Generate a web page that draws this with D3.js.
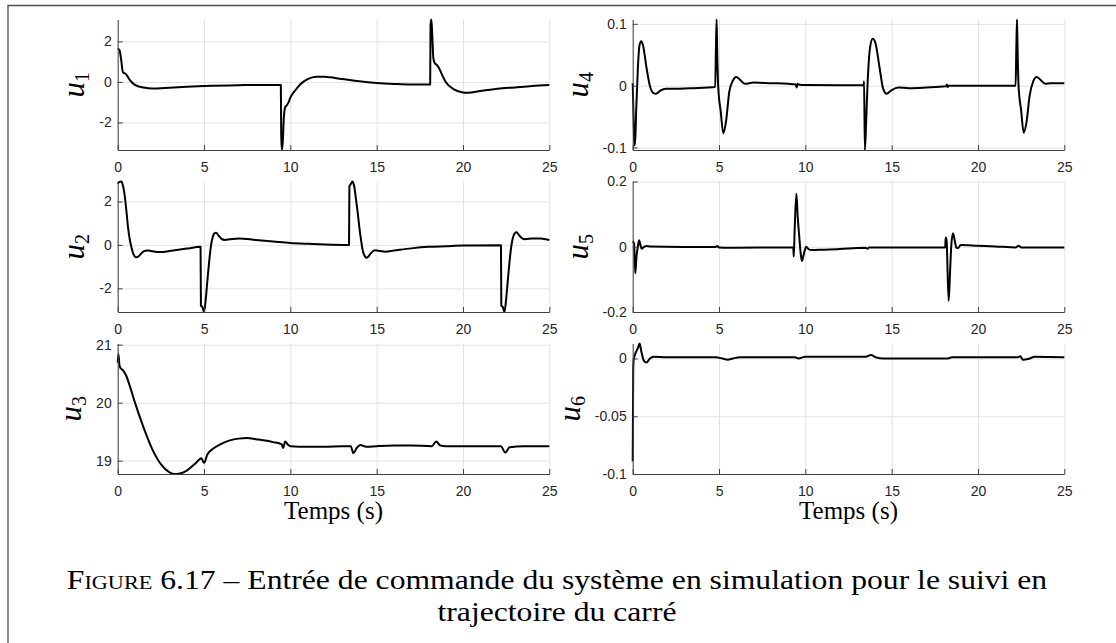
<!DOCTYPE html>
<html><head><meta charset="utf-8">
<script src="https://cdn.jsdelivr.net/npm/d3@7"></script>
<style>body{margin:0;background:#fff} svg{display:block}</style>
</head><body>
<svg id="c" width="1116" height="643"></svg>
<script>
// ---------- data ----------
const xTicks = [0, 5, 10, 15, 20, 25];
const xTickLabels = ["0", "5", "10", "15", "20", "25"];
const panelNames = ["1", "2", "3", "4", "5", "6"];

const u1 = [[0,1.64],[0.1,1.58],[0.2,1.1],[0.3,0.48],[0.45,0.4],[0.55,0.3],[0.7,0.1],[1.0,-0.15],[1.5,-0.28],[2.0,-0.33],[3.0,-0.29],[4.0,-0.24],[5.0,-0.2],[7.0,-0.16],[9.0,-0.15],[9.45,-0.15],[9.47,-2.5],[9.5,-3.36],[9.56,-3.0],[9.62,-1.8],[9.7,-1.25],[9.8,-1.15],[9.9,-1.0],[10.0,-0.78],[10.3,-0.4],[10.6,-0.1],[11.0,0.14],[11.5,0.26],[12.0,0.25],[13.0,0.14],[14.0,0.03],[15.0,-0.05],[16.0,-0.1],[17.0,-0.13],[18.1,-0.13],[18.12,2.8],[18.16,3.08],[18.2,2.7],[18.28,1.2],[18.35,0.95],[18.5,0.82],[18.6,0.7],[18.8,0.33],[19.0,0.0],[19.5,-0.38],[20.0,-0.52],[20.3,-0.54],[21.0,-0.45],[22.0,-0.34],[23.0,-0.27],[24.0,-0.2],[25.0,-0.15]];
const u2 = [[0,2.82],[0.1,2.9],[0.2,2.92],[0.3,2.75],[0.4,2.3],[0.5,1.6],[0.6,0.8],[0.7,0.25],[0.8,-0.12],[0.9,-0.4],[1.0,-0.54],[1.1,-0.57],[1.25,-0.5],[1.4,-0.36],[1.6,-0.27],[1.8,-0.26],[2.0,-0.29],[2.5,-0.33],[3.0,-0.28],[4.0,-0.17],[4.8,-0.09],[4.82,-2.8],[4.9,-2.85],[5.0,-3.09],[5.1,-2.5],[5.2,-1.6],[5.3,-0.75],[5.4,-0.05],[5.5,0.35],[5.6,0.53],[5.7,0.56],[5.85,0.42],[6.0,0.29],[6.2,0.23],[6.5,0.26],[7.0,0.3],[8.0,0.23],[9.0,0.16],[10.0,0.09],[11.0,0.05],[12.0,0.02],[13.4,0.0],[13.42,2.7],[13.5,2.8],[13.6,2.92],[13.7,2.7],[13.8,2.12],[13.9,1.5],[14.0,0.8],[14.1,0.2],[14.2,-0.28],[14.3,-0.5],[14.4,-0.59],[14.5,-0.55],[14.65,-0.4],[14.9,-0.25],[15.2,-0.28],[15.5,-0.31],[16.0,-0.26],[17.0,-0.16],[18.0,-0.09],[19.0,-0.06],[20.0,-0.03],[22.2,-0.02],[22.22,-2.8],[22.3,-2.85],[22.4,-3.09],[22.5,-2.5],[22.6,-1.6],[22.7,-0.75],[22.8,-0.05],[22.9,0.35],[23.0,0.54],[23.1,0.58],[23.25,0.45],[23.4,0.32],[23.6,0.26],[24.0,0.3],[24.5,0.29],[25.0,0.23]];
const u3 = [[0,20.69],[0.04,20.84],[0.1,20.65],[0.15,20.6],[0.3,20.56],[0.5,20.46],[0.7,20.29],[1.0,20.0],[1.5,19.57],[2.0,19.2],[2.5,18.94],[3.0,18.8],[3.3,18.77],[3.6,18.78],[4.0,18.83],[4.5,18.95],[4.85,19.04],[5.0,18.96],[5.2,19.11],[5.5,19.2],[6.0,19.29],[6.5,19.35],[7.0,19.38],[7.5,19.39],[8.0,19.37],[9.0,19.32],[9.5,19.28],[9.58,19.22],[9.7,19.33],[9.85,19.28],[10.0,19.25],[11.0,19.24],[12.0,19.24],[13.0,19.25],[13.5,19.25],[13.65,19.13],[13.85,19.22],[14.05,19.27],[14.4,19.24],[15.0,19.25],[16.0,19.26],[17.0,19.26],[18.2,19.25],[18.45,19.33],[18.7,19.26],[19.0,19.25],[20.0,19.25],[22.2,19.25],[22.45,19.14],[22.7,19.23],[23.5,19.25],[25.0,19.25]];
const u4 = [[0,0.004],[0.05,-0.05],[0.1,-0.097],[0.15,-0.085],[0.2,-0.042],[0.3,0.029],[0.4,0.066],[0.5,0.072],[0.6,0.065],[0.8,0.029],[1.0,-0.001],[1.2,-0.012],[1.35,-0.013],[1.6,-0.008],[1.9,-0.005],[2.5,-0.005],[3.5,-0.004],[4.78,-0.002],[4.82,0.06],[4.86,0.107],[4.9,0.05],[4.95,0.0],[5.1,-0.042],[5.25,-0.077],[5.4,-0.059],[5.6,-0.009],[5.8,0.008],[6.0,0.014],[6.2,0.01],[6.5,0.003],[7.0,0.005],[8.0,0.004],[9.0,0.003],[9.45,0.002],[9.5,-0.003],[9.55,0.003],[9.6,0.002],[10.0,0.001],[12.0,0.0005],[13.38,0.0005],[13.4,0.007],[13.45,-0.104],[13.52,-0.06],[13.6,0.0],[13.75,0.062],[13.9,0.076],[14.05,0.07],[14.3,0.029],[14.5,-0.004],[14.7,-0.013],[15.0,-0.007],[15.4,-0.003],[16.0,-0.004],[17.0,-0.003],[18.15,-0.001],[18.2,0.002],[18.25,-0.002],[18.3,0.0],[19.0,0.0],[22.18,0.0],[22.22,0.06],[22.26,0.107],[22.3,0.05],[22.35,0.0],[22.5,-0.04],[22.65,-0.076],[22.8,-0.061],[23.0,-0.015],[23.2,0.007],[23.4,0.014],[23.6,0.01],[23.9,0.003],[24.2,0.004],[25.0,0.004]];
const u5 = [[0,0.017],[0.08,0.01],[0.15,-0.082],[0.22,-0.03],[0.3,0.0],[0.37,0.02],[0.45,0.005],[0.52,-0.006],[0.62,-0.002],[0.8,0.002],[1.0,0.001],[4.8,-0.001],[4.9,0.002],[5.0,-0.002],[5.5,-0.003],[9.3,-0.002],[9.33,-0.03],[9.38,0.05],[9.48,0.163],[9.56,0.09],[9.65,0.03],[9.73,-0.02],[9.8,-0.044],[9.9,-0.025],[10.05,0.0],[10.2,-0.008],[10.4,-0.01],[11.0,-0.009],[12.0,-0.007],[13.0,-0.004],[13.5,-0.003],[13.6,-0.006],[13.7,-0.002],[15.0,-0.002],[18.1,-0.002],[18.13,0.028],[18.18,0.02],[18.3,-0.166],[18.38,-0.08],[18.45,0.0],[18.55,0.041],[18.65,0.02],[18.75,-0.003],[18.85,-0.004],[19.0,0.005],[20.0,0.003],[21.0,0.001],[22.2,-0.002],[22.35,0.003],[22.5,-0.002],[23.0,-0.002],[25.0,-0.002]];
const u6 = [[0,-0.089],[0.03,-0.01],[0.06,-0.001],[0.15,0.004],[0.3,0.009],[0.4,0.013],[0.5,0.006],[0.65,-0.002],[0.8,-0.0035],[1.0,0.0],[1.2,0.0015],[2.0,0.001],[4.8,0.001],[5.2,0.0],[5.5,-0.001],[5.8,0.0],[6.2,0.001],[9.4,0.001],[9.6,0.0],[10.0,0.0015],[13.5,0.0015],[13.8,0.003],[14.1,0.001],[14.5,0.0],[18.2,0.0],[18.5,0.001],[22.3,0.001],[22.45,0.002],[22.6,-0.001],[22.9,-0.0005],[23.3,0.0015],[25.0,0.001]];

const yDomains = [[-3.36, 3.08], [-3.09, 2.92], [18.77, 21.02], [-0.104, 0.107], [-0.2, 0.2], [-0.1, 0.013]];
const yTicks = [[-2, 0, 2], [-2, 0, 2], [19, 20, 21], [-0.1, 0, 0.1], [-0.2, 0, 0.2], [-0.1, -0.05, 0]];
const yTickLabels = [["-2","0","2"], ["-2","0","2"], ["19","20","21"], ["-0.1","0","0.1"], ["-0.2","0","0.2"], ["-0.1","-0.05","0"]];
const series = [u1, u2, u3, u4, u5, u6];
const xLabelText = "Temps (s)";
const captionLine1 = " 6.17 – Entrée de commande du système en simulation pour le suivi en";
const captionLine2 = "trajectoire du carré";

// ---------- layout ----------
const svg = d3.select("#c");
const colLeft = [117.7, 632.7], plotW = 431.6;
const rowTop = [19.5, 181.5, 343.5], plotH = 130.5;
const tickFont = "'Liberation Sans', Arial, Helvetica, sans-serif";
const serif = "'Liberation Serif', 'Times New Roman', serif";

// border
svg.append("path").attr("d", "M8,643V5.5H1116").attr("fill", "none")
  .attr("stroke", "#4d4d4d").attr("stroke-width", 1.3);

series.forEach((data, i) => {
  const col = Math.floor(i / 3), row = i % 3;
  const left = colLeft[col], top = rowTop[row];
  const x = d3.scaleLinear().domain([0, 25]).range([0, plotW]);
  const y = d3.scaleLinear().domain(yDomains[i]).range([plotH, 0]);
  const g = svg.append("g").attr("transform", `translate(${left},${top})`);

  // grid
  const gx = g.append("g").attr("transform", `translate(0,${plotH})`)
    .call(d3.axisBottom(x).tickValues(xTicks).tickSize(-plotH).tickFormat(""));
  const gy = g.append("g")
    .call(d3.axisLeft(y).tickValues(yTicks[i]).tickSize(-plotW).tickFormat(""));
  [gx, gy].forEach(a => {
    a.select(".domain").remove();
    a.selectAll("line").attr("stroke", "#e3e3e3").attr("stroke-width", 1);
  });

  // data line
  const line = d3.line().x(d => x(d[0])).y(d => y(d[1])).curve(d3.curveMonotoneX);
  g.append("path").datum(data).attr("d", line).attr("fill", "none")
    .attr("stroke", "#000").attr("stroke-width", 2).attr("stroke-linejoin", "round");

  // axes
  const ax = g.append("g").attr("transform", `translate(0,${plotH})`)
    .call(d3.axisBottom(x).tickValues(xTicks).tickFormat((d, k) => xTickLabels[k])
      .tickSizeInner(-5).tickSizeOuter(0).tickPadding(12));
  const ay = g.append("g")
    .call(d3.axisLeft(y).tickValues(yTicks[i]).tickFormat((d, k) => yTickLabels[i][k])
      .tickSizeInner(-5).tickSizeOuter(0).tickPadding(6));
  [ax, ay].forEach(a => {
    a.select(".domain").attr("stroke", "#404040").attr("stroke-width", 1);
    a.selectAll(".tick line").attr("stroke", "#404040");
    a.selectAll(".tick text").attr("fill", "#262626")
      .style("font-family", tickFont).style("font-size", "14px");
  });

  // y label
  const maxW = d3.max(ay.selectAll(".tick text").nodes(), n => n.getComputedTextLength());
  const lx = -6 - maxW - 15;
  const yl = g.append("text").attr("transform", `translate(${lx},${plotH / 2}) rotate(-90)`)
    .attr("text-anchor", "middle").style("font-family", serif).attr("fill", "#000");
  yl.append("tspan").style("font-style", "italic").style("font-size", "31px").text("u");
  yl.append("tspan").attr("dy", 5).style("font-size", "20px").text(panelNames[i]);

  // x label on bottom row
  if (row === 2) {
    g.append("text").attr("x", plotW / 2).attr("y", 519 - top)
      .attr("text-anchor", "middle").style("font-family", serif)
      .style("font-size", "25px").attr("fill", "#000").text(xLabelText);
  }
});

// caption
const cap = svg.append("g");
const t1 = cap.append("text").attr("x", 0).attr("y", 589).attr("text-anchor", "middle")
  .style("font-family", serif).style("font-size", "28px").attr("fill", "#000");
t1.append("tspan").style("font-variant", "small-caps").text("Figure");
t1.append("tspan").text(captionLine1);
cap.append("text").attr("x", 0).attr("y", 621).attr("text-anchor", "middle")
  .style("font-family", serif).style("font-size", "28px").attr("fill", "#000").text(captionLine2);
const w1 = t1.node().getComputedTextLength();
const sx = 982 / w1;
cap.attr("transform", `translate(557,0) scale(${sx},1)`);
</script>
</body></html>
